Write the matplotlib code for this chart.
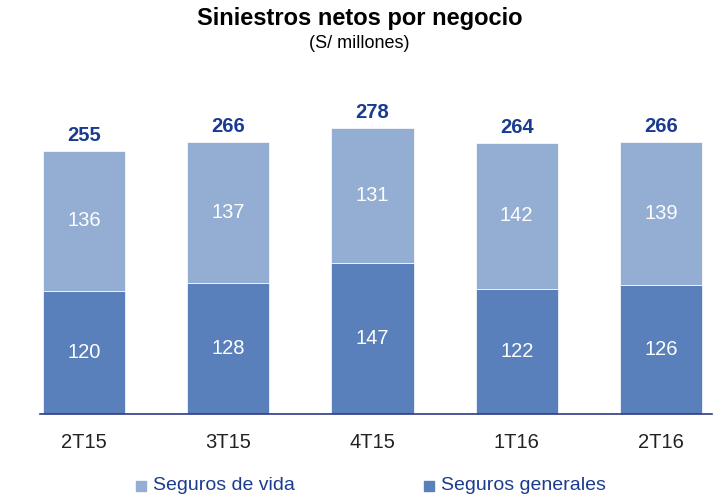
import matplotlib.pyplot as plt
from matplotlib.patches import Rectangle
import numpy as np

plt.rcParams['font.family'] = ['Liberation Sans', 'DejaVu Sans']

periods = ["2T15", "3T15", "4T15", "1T16", "2T16"]
generales = [120, 128, 147, 122, 126]
vida = [136, 137, 131, 142, 139]
totals = [255, 266, 278, 264, 266]

c_vida = "#94ADD3"
c_gen = "#5A80BC"
c_dark = "#1B3B91"

fig = plt.figure(figsize=(7.19, 4.99), dpi=100)
ax = fig.add_axes([40 / 719, 85 / 499, 672 / 719, 354 / 499])

x = np.arange(len(periods))
w = 0.57
ax.bar(x, generales, w, color=c_gen, edgecolor="white", linewidth=0.5)
ax.bar(x, vida, w, bottom=generales, color=c_vida, edgecolor="white", linewidth=0.5)

for i in range(len(periods)):
    ax.text(x[i], generales[i] / 2, str(generales[i]), ha="center", va="center",
            color="white", fontsize=14.5)
    ax.text(x[i], generales[i] + vida[i] / 2, str(vida[i]), ha="center", va="center",
            color="white", fontsize=14.5)
    ax.text(x[i], generales[i] + vida[i] + 6, str(totals[i]), ha="center", va="bottom",
            color=c_dark, fontsize=14.5, fontweight="bold")

ax.set_xlim(-0.305, 4.354)
ax.set_ylim(0, 344.7)
ax.set_xticks(x)
ax.set_xticklabels(periods, fontsize=14.5, color="#222222")
ax.tick_params(axis="x", length=0, pad=14)
ax.set_yticks([])
for s in ["top", "right", "left"]:
    ax.spines[s].set_visible(False)
ax.spines["bottom"].set_color("#2E3A87")
ax.spines["bottom"].set_linewidth(1.2)

fig.text(0.5, 1 - 18 / 499, "Siniestros netos por negocio", ha="center", va="center",
         fontsize=17, fontweight="bold", color="black")
fig.text(0.5, 1 - 44 / 499, "(S/ millones)", ha="center", va="center",
         fontsize=13, color="black")

# legend
fig.patches.append(Rectangle((136 / 719, 1 - 491 / 499), 10 / 719, 10 / 499,
                             transform=fig.transFigure, color=c_vida))
fig.text(153 / 719, 1 - 486 / 499, "Seguros de vida", ha="left", va="center", fontsize=14, color=c_dark)
fig.patches.append(Rectangle((424 / 719, 1 - 491 / 499), 10 / 719, 10 / 499,
                             transform=fig.transFigure, color=c_gen))
fig.text(441 / 719, 1 - 486 / 499, "Seguros generales", ha="left", va="center", fontsize=14, color=c_dark)

fig.savefig("out.png", dpi=100)
